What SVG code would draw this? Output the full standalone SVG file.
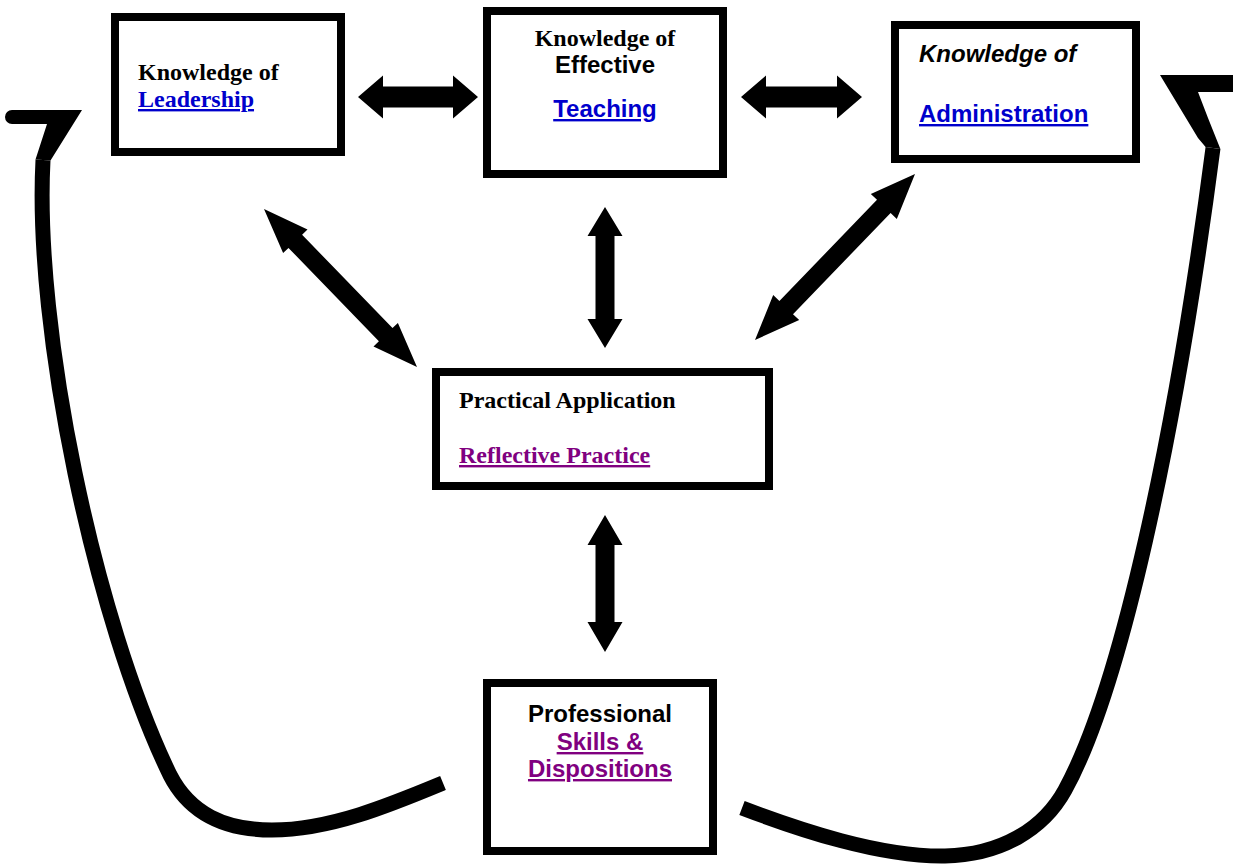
<svg xmlns="http://www.w3.org/2000/svg" width="1233" height="864" viewBox="0 0 1233 864">
<style>
.box{fill:#fff;stroke:#000;stroke-width:8}
.tb{font-family:"Liberation Serif","Times New Roman",serif;font-weight:bold;font-size:24px;fill:#000}
.ab{font-family:"Liberation Sans",Arial,sans-serif;font-weight:bold;font-size:24px;fill:#000}
.lk{fill:#0000CC;text-decoration:underline}
.vis{fill:#800080;text-decoration:underline}
.arr{fill:#000}
.curve{fill:none;stroke:#000;stroke-width:15}
</style>
<rect width="1233" height="864" fill="#fff"/>
<g id="connectors">
<polygon class="arr" points="358,97 383,75.5 383,86.5 453,86.5 453,75.5 478,97 453,118.5 453,107.5 383,107.5 383,118.5"/>
<polygon class="arr" points="741,97 766,75.5 766,86.5 837,86.5 837,75.5 862,97 837,118.5 837,107.5 766,107.5 766,118.5"/>
<polygon class="arr" points="605,207 622.5,236 614.5,236 614.5,319 622.5,319 605,348 587.5,319 595.5,319 595.5,236 587.5,236"/>
<polygon class="arr" points="605,515 622.5,545 614.5,545 614.5,622 622.5,622 605,652 587.5,622 595.5,622 595.5,545 587.5,545"/>
<polygon class="arr" points="264,209 307.5,229.5 302.1,234.7 392.5,328.1 397.9,322.9 417,367 373.5,346.5 378.9,341.3 288.5,247.9 283.1,253.1"/>
<polygon class="arr" points="915,174 896.8,218.9 890.6,213 793,314.2 799.2,320.1 755,340 773.2,295.1 779.4,301 877,199.8 870.8,193.9"/>
<path class="curve" d="M 43 160 C 34 330 95 620 170 775 C 190 814 225 830 272 830 C 330 830 390 805 443 783"/>
<path class="arr" d="M 12 110 L 82 110 L 50.5 160.4 L 35.5 159.6 L 47 124 L 12 124 A 7 7 0 0 1 12 110 Z"/>
<path class="curve" d="M 742 808 C 800 830 880 857 945 856 C 1000 855 1043 830 1065 790 C 1120 690 1175 440 1213 148"/>
<path class="arr" d="M 1160 75 L 1233 75 L 1233 92 L 1198 92 L 1208 118 L 1220.4 149 L 1205.6 147 L 1198 138 Z"/>
</g>
<g id="node-leadership">
<rect class="box" x="115" y="17" width="226" height="135"/>
<text class="tb" x="138" y="80">Knowledge of</text>
<text class="tb lk" x="138" y="107">Leadership</text>
</g>
<g id="node-teaching">
<rect class="box" x="487" y="11" width="236" height="163"/>
<text class="tb" x="605" y="46" text-anchor="middle">Knowledge of</text>
<text class="ab" x="605" y="73" text-anchor="middle" font-size="23">Effective</text>
<text class="ab lk" x="605" y="117" text-anchor="middle">Teaching</text>
</g>
<g id="node-administration">
<rect class="box" x="895" y="25" width="241" height="134"/>
<text class="ab" x="919" y="62" font-style="italic">Knowledge of</text>
<text class="ab lk" x="919" y="122">Administration</text>
</g>
<g id="node-practical">
<rect class="box" x="436" y="372" width="333" height="114"/>
<text class="tb" x="459" y="408">Practical Application</text>
<text class="tb vis" x="459" y="463">Reflective Practice</text>
</g>
<g id="node-professional">
<rect class="box" x="487" y="683" width="226" height="168"/>
<text class="ab" x="600" y="722" text-anchor="middle">Professional</text>
<text class="ab vis" x="600" y="750" text-anchor="middle">Skills &amp;</text>
<text class="ab vis" x="600" y="777" text-anchor="middle">Dispositions</text>
</g>
</svg>
